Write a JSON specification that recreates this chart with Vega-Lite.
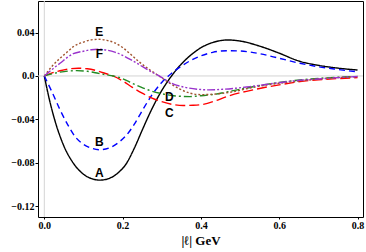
{
  "$schema": "https://vega.github.io/schema/vega-lite/v6.json",
  "width": 325,
  "height": 216,
  "autosize": {"type": "none"},
  "padding": {"left": 38, "top": 1, "right": 3, "bottom": 35},
  "background": "white",
  "config": {
    "view": {"stroke": "#000000", "strokeWidth": 1},
    "axis": {
      "labelFont": "Liberation Serif",
      "labelFontWeight": "bold",
      "labelFontSize": 10,
      "labelColor": "#000000",
      "titleFont": "Liberation Serif",
      "titleFontWeight": "bold",
      "titleFontSize": 13,
      "titleColor": "#000000",
      "tickColor": "#000000",
      "domain": false,
      "grid": false
    }
  },
  "layer": [
    {
      "data": {"values": [{"x": 0}]},
      "mark": {"type": "rule", "color": "#d4d4d4", "strokeWidth": 1},
      "encoding": {"x": {"field": "x", "type": "quantitative", "scale": {"domain": [-0.0161, 0.814]}}}
    },
    {
      "data": {"values": [{"y": 0}]},
      "mark": {"type": "rule", "color": "#d4d4d4", "strokeWidth": 1},
      "encoding": {"y": {"field": "y", "type": "quantitative", "scale": {"domain": [-0.13, 0.0691]}}}
    },
    {
      "data": {"values": [
        {"s":"A","x":0,"y":0},{"s":"A","x":0.0125,"y":-0.021},{"s":"A","x":0.025,"y":-0.0385},{"s":"A","x":0.05,"y":-0.0646},{"s":"A","x":0.075,"y":-0.0808},{"s":"A","x":0.1,"y":-0.0906},{"s":"A","x":0.125,"y":-0.0951},{"s":"A","x":0.142,"y":-0.096},{"s":"A","x":0.16,"y":-0.0951},{"s":"A","x":0.185,"y":-0.0903},{"s":"A","x":0.21,"y":-0.0805},{"s":"A","x":0.23,"y":-0.0665},{"s":"A","x":0.25,"y":-0.05},{"s":"A","x":0.27,"y":-0.034},{"s":"A","x":0.295,"y":-0.0165},{"s":"A","x":0.325,"y":0},{"s":"A","x":0.35,"y":0.011},{"s":"A","x":0.375,"y":0.0195},{"s":"A","x":0.4,"y":0.026},{"s":"A","x":0.425,"y":0.0302},{"s":"A","x":0.45,"y":0.0326},{"s":"A","x":0.466,"y":0.0332},{"s":"A","x":0.5,"y":0.0322},{"s":"A","x":0.55,"y":0.0275},{"s":"A","x":0.6,"y":0.021},{"s":"A","x":0.65,"y":0.0138},{"s":"A","x":0.7,"y":0.0098},{"s":"A","x":0.75,"y":0.0072},{"s":"A","x":0.8,"y":0.0055},
        {"s":"B","x":0,"y":0},{"s":"B","x":0.02,"y":-0.015},{"s":"B","x":0.04,"y":-0.031},{"s":"B","x":0.06,"y":-0.045},{"s":"B","x":0.08,"y":-0.0565},{"s":"B","x":0.1,"y":-0.063},{"s":"B","x":0.12,"y":-0.0665},{"s":"B","x":0.142,"y":-0.068},{"s":"B","x":0.165,"y":-0.0665},{"s":"B","x":0.19,"y":-0.0612},{"s":"B","x":0.21,"y":-0.0545},{"s":"B","x":0.23,"y":-0.0445},{"s":"B","x":0.25,"y":-0.032},{"s":"B","x":0.275,"y":-0.0175},{"s":"B","x":0.3,"y":-0.006},{"s":"B","x":0.317,"y":0},{"s":"B","x":0.35,"y":0.009},{"s":"B","x":0.375,"y":0.0145},{"s":"B","x":0.4,"y":0.0185},{"s":"B","x":0.43,"y":0.0218},{"s":"B","x":0.466,"y":0.0233},{"s":"B","x":0.5,"y":0.023},{"s":"B","x":0.55,"y":0.0205},{"s":"B","x":0.6,"y":0.0163},{"s":"B","x":0.653,"y":0.0117},{"s":"B","x":0.7,"y":0.0085},{"s":"B","x":0.75,"y":0.006},{"s":"B","x":0.8,"y":0.0038},
        {"s":"C","x":0,"y":0},{"s":"C","x":0.02,"y":0.0028},{"s":"C","x":0.04,"y":0.0048},{"s":"C","x":0.06,"y":0.0063},{"s":"C","x":0.087,"y":0.0071},{"s":"C","x":0.11,"y":0.0066},{"s":"C","x":0.13,"y":0.0052},{"s":"C","x":0.15,"y":0.003},{"s":"C","x":0.175,"y":0},{"s":"C","x":0.2,"y":-0.0045},{"s":"C","x":0.225,"y":-0.0105},{"s":"C","x":0.25,"y":-0.0158},{"s":"C","x":0.275,"y":-0.0205},{"s":"C","x":0.3,"y":-0.0237},{"s":"C","x":0.33,"y":-0.0264},{"s":"C","x":0.355,"y":-0.0272},{"s":"C","x":0.38,"y":-0.027},{"s":"C","x":0.405,"y":-0.0262},{"s":"C","x":0.435,"y":-0.0232},{"s":"C","x":0.466,"y":-0.019},{"s":"C","x":0.5,"y":-0.0155},{"s":"C","x":0.525,"y":-0.0135},{"s":"C","x":0.55,"y":-0.0115},{"s":"C","x":0.6,"y":-0.0082},{"s":"C","x":0.653,"y":-0.0052},{"s":"C","x":0.7,"y":-0.0035},{"s":"C","x":0.75,"y":-0.0024},{"s":"C","x":0.8,"y":-0.0015},
        {"s":"D","x":0,"y":0},{"s":"D","x":0.02,"y":0.002},{"s":"D","x":0.04,"y":0.0035},{"s":"D","x":0.06,"y":0.0045},{"s":"D","x":0.083,"y":0.0049},{"s":"D","x":0.11,"y":0.0043},{"s":"D","x":0.13,"y":0.003},{"s":"D","x":0.155,"y":0.0012},{"s":"D","x":0.176,"y":0},{"s":"D","x":0.2,"y":-0.0025},{"s":"D","x":0.225,"y":-0.0068},{"s":"D","x":0.244,"y":-0.0098},{"s":"D","x":0.27,"y":-0.0135},{"s":"D","x":0.296,"y":-0.016},{"s":"D","x":0.33,"y":-0.0182},{"s":"D","x":0.372,"y":-0.019},{"s":"D","x":0.4,"y":-0.0182},{"s":"D","x":0.43,"y":-0.0172},{"s":"D","x":0.46,"y":-0.0152},{"s":"D","x":0.5,"y":-0.0122},{"s":"D","x":0.525,"y":-0.0106},{"s":"D","x":0.55,"y":-0.0088},{"s":"D","x":0.6,"y":-0.006},{"s":"D","x":0.653,"y":-0.0037},{"s":"D","x":0.7,"y":-0.0022},{"s":"D","x":0.75,"y":-0.0012},{"s":"D","x":0.8,"y":-0.0005},
        {"s":"E","x":0,"y":0},{"s":"E","x":0.02,"y":0.009},{"s":"E","x":0.04,"y":0.0163},{"s":"E","x":0.06,"y":0.0225},{"s":"E","x":0.074,"y":0.027},{"s":"E","x":0.1,"y":0.0312},{"s":"E","x":0.12,"y":0.0333},{"s":"E","x":0.138,"y":0.0338},{"s":"E","x":0.16,"y":0.0328},{"s":"E","x":0.18,"y":0.0305},{"s":"E","x":0.2,"y":0.0262},{"s":"E","x":0.222,"y":0.0195},{"s":"E","x":0.244,"y":0.0125},{"s":"E","x":0.27,"y":0.0055},{"s":"E","x":0.291,"y":0.0005},{"s":"E","x":0.321,"y":-0.0068},{"s":"E","x":0.345,"y":-0.0118},{"s":"E","x":0.372,"y":-0.0158},{"s":"E","x":0.4,"y":-0.0172},{"s":"E","x":0.43,"y":-0.0168},{"s":"E","x":0.46,"y":-0.0158},{"s":"E","x":0.483,"y":-0.0145},{"s":"E","x":0.52,"y":-0.0115},{"s":"E","x":0.568,"y":-0.0083},{"s":"E","x":0.6,"y":-0.0068},{"s":"E","x":0.653,"y":-0.0046},{"s":"E","x":0.7,"y":-0.0028},{"s":"E","x":0.75,"y":-0.0015},{"s":"E","x":0.8,"y":-0.0005},
        {"s":"F","x":0,"y":0},{"s":"F","x":0.02,"y":0.006},{"s":"F","x":0.04,"y":0.0117},{"s":"F","x":0.074,"y":0.0205},{"s":"F","x":0.1,"y":0.0228},{"s":"F","x":0.12,"y":0.0242},{"s":"F","x":0.14,"y":0.0246},{"s":"F","x":0.16,"y":0.0238},{"s":"F","x":0.18,"y":0.022},{"s":"F","x":0.2,"y":0.019},{"s":"F","x":0.222,"y":0.0148},{"s":"F","x":0.244,"y":0.0101},{"s":"F","x":0.27,"y":0.0045},{"s":"F","x":0.291,"y":0.0005},{"s":"F","x":0.33,"y":-0.0075},{"s":"F","x":0.36,"y":-0.0105},{"s":"F","x":0.39,"y":-0.0122},{"s":"F","x":0.42,"y":-0.0128},{"s":"F","x":0.46,"y":-0.0122},{"s":"F","x":0.525,"y":-0.0098},{"s":"F","x":0.6,"y":-0.0062},{"s":"F","x":0.653,"y":-0.004},{"s":"F","x":0.7,"y":-0.0028},{"s":"F","x":0.75,"y":-0.0015},{"s":"F","x":0.8,"y":-0.0005}
      ]},
      "mark": {"type": "line", "interpolate": "monotone", "strokeWidth": 1.4, "clip": true},
      "encoding": {
        "x": {"field": "x", "type": "quantitative", "scale": {"domain": [-0.0161, 0.814], "nice": false, "zero": false},
          "axis": {"values": [0, 0.2, 0.4, 0.6, 0.8], "format": ".1f", "tickSize": 2, "labelPadding": 1, "title": "|ℓ| GeV", "titlePadding": 4}},
        "y": {"field": "y", "type": "quantitative", "scale": {"domain": [-0.13, 0.0691], "nice": false, "zero": false},
          "axis": {"values": [-0.12, -0.08, -0.04, 0, 0.04], "labelExpr": "datum.value == 0 ? '0.0' : format(datum.value, '.2f')", "tickSize": 3, "labelPadding": 1, "title": null}},
        "color": {"field": "s", "type": "nominal", "legend": null,
          "scale": {"domain": ["A","B","C","D","E","F"], "range": ["#000000","#0000ff","#ff0000","#228b22","#a0522d","#9932cc"]}},
        "strokeDash": {"field": "s", "type": "nominal", "legend": null,
          "scale": {"domain": ["A","B","C","D","E","F"], "range": [[1,0],[6,4],[10,4],[8,3,2,3],[2,2],[8,2,2,2,2,2]]}}
      }
    },
    {
      "data": {"values": [
        {"t":"A","x":0.1405,"y":-0.0898},
        {"t":"B","x":0.1405,"y":-0.0606},
        {"t":"C","x":0.3193,"y":-0.0338},
        {"t":"D","x":0.3193,"y":-0.0197},
        {"t":"E","x":0.1405,"y":0.0403},
        {"t":"F","x":0.1405,"y":0.02}
      ]},
      "mark": {"type": "text", "font": "Liberation Sans", "fontWeight": "bold", "fontSize": 12, "color": "#000000", "align": "center", "baseline": "middle"},
      "encoding": {
        "x": {"field": "x", "type": "quantitative"},
        "y": {"field": "y", "type": "quantitative"},
        "text": {"field": "t"}
      }
    }
  ]
}
